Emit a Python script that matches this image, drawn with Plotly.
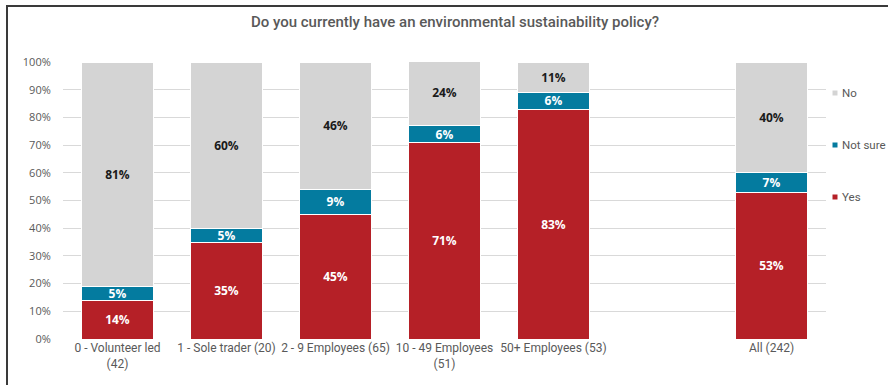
import plotly.graph_objects as go

categories = ["0 - Volunteer led<br>(42)", "1 - Sole trader (20)", "2 - 9 Employees (65)",
              "10 - 49 Employees<br>(51)", "50+ Employees (53)", " ", "All (242)"]
yes_vals = [14, 35, 45, 71, 83, None, 53]
notsure_vals = [5, 5, 9, 6, 6, None, 7]
no_vals = [81, 60, 46, 24, 11, None, 40]
series_names = ["Yes", "Not sure", "No"]
series_colors = ["#b52027", "#047b9f", "#d4d4d4"]
label_colors = ["white", "white", "#1a1a1a"]
ytick_vals = [0, 10, 20, 30, 40, 50, 60, 70, 80, 90, 100]
ytick_text = [f"{v}%" for v in ytick_vals]

W, H = 888, 385
L, R, T, B = 63, 62, 62, 46
PW, PH = W - L - R, H - T - B

def px2x(px):
    return (px - L) / PW

def py2y(py):
    return (H - B - py) / PH

fig = go.Figure()
for name, vals, col, lc in zip(series_names, [yes_vals, notsure_vals, no_vals], series_colors, label_colors):
    fig.add_trace(go.Bar(
        x=categories, y=vals, name=name,
        marker=dict(color=col, line=dict(color="white", width=1)),
        text=[f"{v}%" if v is not None else "" for v in vals],
        textposition="inside", insidetextanchor="middle", textangle=0,
        constraintext="none",
        textfont=dict(family="Open Sans", size=12, color=lc, weight="bold"),
        showlegend=False, hoverinfo="skip",
    ))

fig.update_layout(
    width=W, height=H,
    margin=dict(l=L, r=R, t=T, b=B),
    barmode="stack", bargap=0.34,
    paper_bgcolor="white", plot_bgcolor="white",
    title=dict(text="Do you currently have an environmental sustainability policy?",
               x=px2x(455), xref="paper", xanchor="center", y=1 - 22 / H, yanchor="middle",
               font=dict(family="Roboto, sans-serif", size=15, color="#595959", weight=500)),
    xaxis=dict(categoryorder="array", categoryarray=categories, showgrid=False,
               showline=False, zeroline=False,
               tickfont=dict(family="Roboto, sans-serif", size=12, color="#595959")),
    yaxis=dict(range=[0, 100], tickvals=ytick_vals, ticktext=ytick_text,
               showgrid=True, gridcolor="#d9d9d9", gridwidth=1, zeroline=False,
               showline=False, ticks="outside", ticklen=9, tickcolor="rgba(0,0,0,0)",
               tickfont=dict(family="Open Sans", size=11, color="#595959")),
    font=dict(family="Open Sans", color="#595959"),
)

# legend (custom, spread vertically like the original)
legend_y = [197, 145, 93]
for name, col, ly in zip(series_names, series_colors, legend_y):
    fig.add_shape(type="rect", xref="paper", yref="paper",
                  x0=px2x(832.5), x1=px2x(837.5), y0=py2y(ly + 2.5), y1=py2y(ly - 2.5),
                  fillcolor=col, line=dict(width=0))
    fig.add_annotation(text=name, xref="paper", yref="paper", x=px2x(840), y=py2y(ly),
                       xanchor="left", yanchor="middle", showarrow=False,
                       font=dict(family="Roboto, sans-serif", size=11.5, color="#595959"))

# outer frame (cropped at right and bottom)
fig.add_shape(type="rect", xref="paper", yref="paper", layer="above",
              x0=px2x(7), x1=px2x(W + 20), y0=py2y(H + 20), y1=py2y(6),
              line=dict(color="#3a3a3a", width=2), fillcolor="rgba(0,0,0,0)")

fig.write_html("out.html")
